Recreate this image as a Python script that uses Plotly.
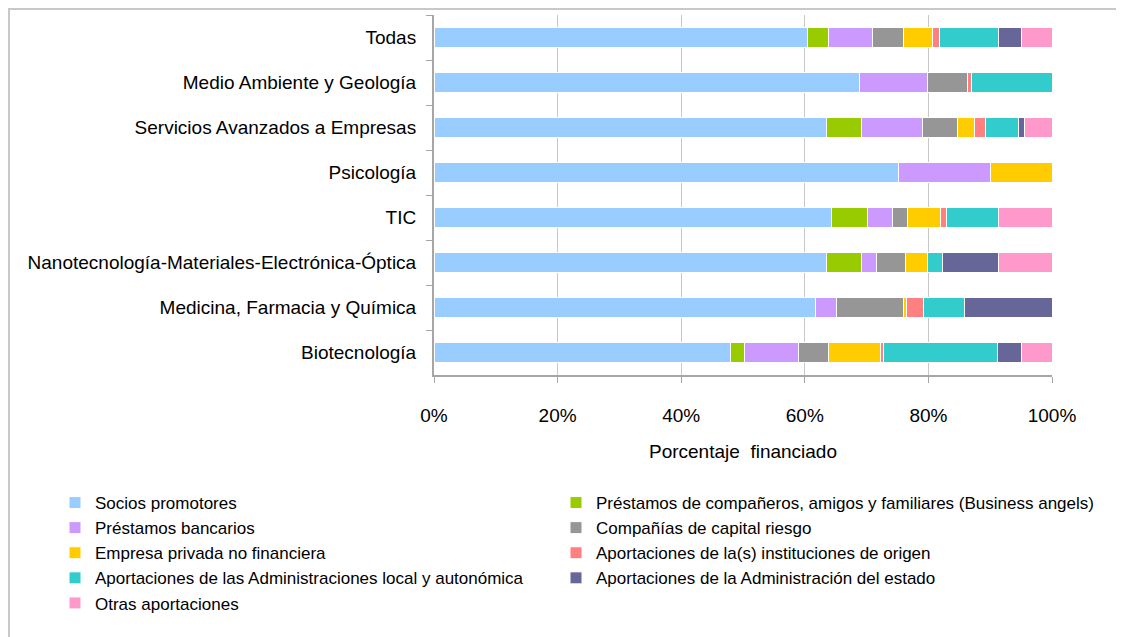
import plotly.graph_objects as go

categorias = ['Todas', 'Medio Ambiente y Geología', 'Servicios Avanzados a Empresas', 'Psicología', 'TIC',
              'Nanotecnología-Materiales-Electrónica-Óptica', 'Medicina, Farmacia y Química', 'Biotecnología']

socios = [60.4, 68.8, 63.5, 75.1, 64.4, 63.5, 61.8, 48.0]
business_angels = [3.5, 0, 5.7, 0, 5.7, 5.7, 0, 2.2]
bancarios = [7.0, 11.1, 9.8, 14.9, 4.1, 2.4, 3.3, 8.7]
capital_riesgo = [5.0, 6.4, 5.7, 0, 2.4, 4.7, 10.8, 4.9]
empresa_privada = [4.8, 0, 2.7, 10.0, 5.3, 3.5, 0.6, 8.5]
instituciones = [1.1, 0.6, 1.8, 0, 1.1, 0, 2.7, 0.5]
admin_local = [9.5, 13.1, 5.3, 0, 8.4, 2.5, 6.7, 18.3]
admin_estado = [3.8, 0, 1.1, 0, 0, 9.1, 14.1, 4.0]
otras = [4.9, 0, 4.4, 0, 8.6, 8.6, 0, 4.9]

ticks_x = [0, 20, 40, 60, 80, 100]
ticks_txt = ['0%', '20%', '40%', '60%', '80%', '100%']

series = [
    ('Socios promotores', socios, '#99CCFF'),
    ('Préstamos de compañeros, amigos y familiares (Business angels)', business_angels, '#99CC00'),
    ('Préstamos bancarios', bancarios, '#CC99FF'),
    ('Compañías de capital riesgo', capital_riesgo, '#969696'),
    ('Empresa privada no financiera', empresa_privada, '#FFCC00'),
    ('Aportaciones de la(s) instituciones de origen', instituciones, '#FF8080'),
    ('Aportaciones de las Administraciones local y autonómica', admin_local, '#33CCCC'),
    ('Aportaciones de la Administración del estado', admin_estado, '#666699'),
    ('Otras aportaciones', otras, '#FF99CC'),
]

fuente = "Liberation Sans, Arial, sans-serif"

total = [sum(s[1][i] for s in series) for i in range(len(categorias))]

fig = go.Figure()
for k, (nombre, valores, color) in enumerate(series):
    pct = [v / t * 100 for v, t in zip(valores, total)]
    # left column of the legend gets the even entries, right column the odd ones
    fig.add_trace(go.Bar(y=categorias, x=pct, name=nombre, orientation='h',
                         legend='legend' if k % 2 == 0 else 'legend2',
                         marker=dict(color=color, line=dict(color='white', width=1))))

# the page body adds an 8px margin, so the figure is drawn 8px in from the window corner
OFF = 8
W, H = 1124 - OFF, 637 - OFF
# plot area on screen: x 434..1052, y 15..375
L, R, T, B = 434 - OFF, 1052 - OFF, 15 - OFF, 375 - OFF
pw, ph = R - L, B - T

def px(x):
    return (x - OFF - L) / pw

def py(y):
    return (B - (y - OFF)) / ph

leyenda = dict(orientation='v', xanchor='left', yanchor='top', traceorder='normal',
               font=dict(size=17), itemwidth=30, tracegroupgap=0, bgcolor='rgba(0,0,0,0)')

fig.update_layout(
    barmode='stack', bargap=0.56,
    width=W, height=H,
    margin=dict(l=L, r=W - R, t=T, b=H - B, autoexpand=False),
    plot_bgcolor='white', paper_bgcolor='white',
    font=dict(family=fuente, size=18, color='black'),
    xaxis=dict(range=[0, 100], tickvals=ticks_x, ticktext=ticks_txt,
               showgrid=True, gridcolor='#C8C8C8', gridwidth=1,
               showline=True, linecolor='#A6A6A6', linewidth=2,
               ticks='outside', ticklen=6, tickcolor='#A6A6A6', ticklabelstandoff=16,
               tickfont=dict(size=19), zeroline=False, automargin=False,
               title=dict(text='Porcentaje  financiado', font=dict(size=19), standoff=20)),
    yaxis=dict(autorange='reversed', showline=True, linecolor='#A6A6A6', linewidth=2,
               ticks='outside', ticklen=6, tickcolor='#A6A6A6', tickson='boundaries',
               ticklabelstandoff=12, automargin=False,
               tickfont=dict(size=19), showgrid=False),
    legend=dict(leyenda, x=px(55), y=py(485)),
    legend2=dict(leyenda, x=px(556), y=py(485)),
    shapes=[dict(type='rect', xref='paper', yref='paper',
                 x0=px(OFF + 1), x1=px(1140), y0=py(660), y1=py(OFF + 1),
                 line=dict(color='#C8C8C8', width=2), layer='below')],
)

fig.write_html("out.html")
